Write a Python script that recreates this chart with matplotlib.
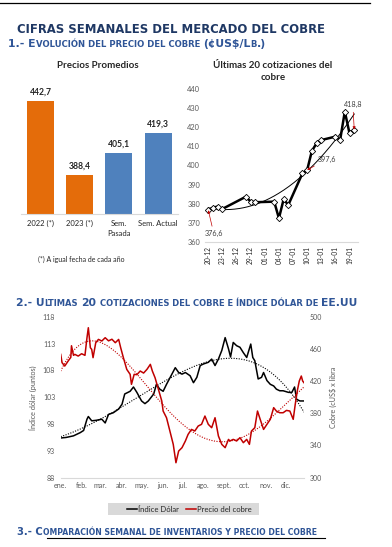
import numpy as np
import matplotlib
matplotlib.use('Agg')
import matplotlib.pyplot as plt
import matplotlib.dates as mdates
from matplotlib.patches import Rectangle
from matplotlib.lines import Line2D

# ---------------- data ----------------
bar_categories = ['2022 (*)', '2023 (*)', 'Sem.\nPasada', 'Sem. Actual']
bar_values = [442.7, 388.4, 405.1, 419.3]
bar_value_labels = ['442,7', '388,4', '405,1', '419,3']

quote_dates = ['2022-12-20', '2022-12-21', '2022-12-22', '2022-12-23', '2022-12-28',
               '2022-12-29', '2022-12-30', '2023-01-03', '2023-01-04', '2023-01-05',
               '2023-01-06', '2023-01-09', '2023-01-10', '2023-01-11', '2023-01-12',
               '2023-01-13', '2023-01-16', '2023-01-17', '2023-01-18', '2023-01-19',
               '2023-01-20']
quote_values = [376.6, 378.0, 378.5, 377.3, 383.7, 381.1, 380.8, 381.1, 372.4, 382.3,
                379.4, 395.9, 397.6, 407.6, 411.6, 413.3, 415.1, 413.3, 428.2, 416.8,
                418.8]
quote_tick_dates = ['2022-12-20', '2022-12-23', '2022-12-26', '2022-12-29', '2023-01-01',
                    '2023-01-04', '2023-01-07', '2023-01-10', '2023-01-13', '2023-01-16',
                    '2023-01-19']
quote_tick_labels = ['20-12', '23-12', '26-12', '29-12', '01-01', '04-01', '07-01',
                     '10-01', '13-01', '16-01', '19-01']
quote_yticks = [360, 370, 380, 390, 400, 410, 420, 430, 440]
callout_index = [0, 12, 20]
callout_text = ['376,6', '397,6', '418,8']

series_start = '2022-01-24'
dxy_day = [0, 8, 19, 29, 34, 39, 41, 46, 53, 61, 66, 71, 78, 86, 91, 95, 103, 108, 113, 120,
           125, 130, 138, 142, 147, 152, 157, 165, 170, 175, 180, 185, 192, 197, 202, 207,
           212, 219, 224, 229, 234, 239, 244, 249, 252, 256, 261, 266, 271, 276, 282, 285,
           288, 293, 298, 301, 306, 311, 316, 320, 325, 330, 338, 343, 347, 350, 355, 361]
dxy_val = [95.4, 95.5, 95.8, 96.4, 96.8, 98.9, 99.4, 98.6, 98.7, 98.9, 98.2, 99.8, 100.1,
           100.8, 101.7, 103.6, 104.1, 104.9, 103.9, 102.3, 101.8, 102.3, 103.6, 105.4,
           104.5, 104.1, 105.4, 107.3, 108.5, 107.6, 107.3, 107.6, 107.0, 105.7, 106.7,
           108.9, 109.2, 109.5, 110.1, 108.9, 110.1, 111.7, 114.1, 112.0, 110.5, 113.2,
           112.6, 112.3, 111.3, 110.4, 112.9, 110.4, 109.8, 106.4, 106.7, 107.6, 106.1,
           105.4, 105.1, 104.5, 104.2, 104.2, 103.9, 103.9, 104.9, 102.6, 102.3, 102.3]
cu_day = [0, 2, 6, 11, 15, 16, 19, 21, 26, 31, 36, 39, 41, 44, 46, 48, 52, 56, 61, 66,
          71, 76, 81, 86, 89, 93, 98, 103, 105, 109, 113, 118, 123, 128, 133, 136, 140,
          145, 150, 152, 157, 162, 167, 171, 175, 180, 185, 189, 194, 199, 204, 209, 214,
          219, 224, 229, 234, 239, 244, 249, 251, 256, 261, 266, 271, 276, 280, 283, 288,
          292, 296, 301, 306, 311, 316, 320, 325, 330, 335, 340, 345, 348, 351, 354, 357,
          359, 361]
cu_val = [453.2, 442.9, 438.7, 444.9, 449.5, 463.9, 452.0, 453.2, 451.1, 454.0, 452.0,
          473.9, 486.3, 461.5, 459.4, 449.1, 467.7, 471.8, 469.8, 473.9, 470.0, 472.0,
          467.7, 471.8, 461.5, 449.1, 434.6, 428.4, 416.0, 428.4, 428.0, 432.5, 430.0,
          434.6, 440.8, 432.5, 424.2, 409.7, 395.2, 382.8, 374.5, 358.0, 341.4, 318.6,
          333.1, 337.3, 345.6, 353.8, 360.0, 358.0, 364.2, 366.3, 376.6, 366.3, 362.1,
          374.5, 351.8, 341.4, 337.3, 347.6, 345.6, 347.6, 345.6, 349.7, 343.5, 347.6,
          341.4, 357.9, 362.1, 382.8, 372.5, 360.0, 366.3, 372.5, 387.0, 382.8, 380.7,
          380.7, 383.6, 382.8, 372.5, 391.1, 407.7, 420.1, 426.3, 420.1, 418.0]
month_tick_dates = ['2022-01-24', '2022-02-24', '2022-03-24', '2022-04-24', '2022-05-24',
                    '2022-06-24', '2022-07-24', '2022-08-24', '2022-09-24', '2022-10-24',
                    '2022-11-24', '2022-12-24']
month_labels = ['ene.', 'feb.', 'mar.', 'abr.', 'may.', 'jun.', 'jul.', 'ago.', 'sept.',
                'oct.', 'nov.', 'dic.']
dxy_ticks = [88, 93, 98, 103, 108, 113, 118]
cu_ticks = [300, 340, 380, 420, 460, 500]

# ---------------- styles ----------------
ORANGE = '#E46C0A'
BLUE = '#4F81BD'
RED = '#C00000'
GRID = '#D9D9D9'
TICK = '#595959'
DARK = '#262626'
HEAD = '#2F5597'
TITLE = '#1F3864'
CH = 'Lato'
HF = 'DejaVu Sans'
bar_colors = [ORANGE, ORANGE, BLUE, BLUE]
TREND_DEG = 4

W, H = 392, 547
fig = plt.figure(figsize=(W / 100, H / 100), dpi=100)
fig.patch.set_facecolor('white')
renderer = fig.canvas.get_renderer()


def add_ax(x0, y0, x1, y1):
    return fig.add_axes([x0 / W, 1 - y1 / H, (x1 - x0) / W, (y1 - y0) / H])


def clean(ax):
    for s in ['top', 'right', 'left']:
        ax.spines[s].set_visible(False)
    ax.spines['bottom'].set_color(GRID)
    ax.spines['bottom'].set_linewidth(0.8)
    ax.tick_params(length=0)
    ax.patch.set_alpha(0)


def caps_line(x0, x1, y, parts, ratio, color, size0=7.0):
    def draw(size):
        arts = []
        x = x0
        for txt, isbig in parts:
            s = size if isbig else size * ratio
            sp = 0.348 * s * 100 / 72
            lead = len(txt) - len(txt.lstrip(' '))
            trail = len(txt) - len(txt.rstrip(' '))
            x += lead * sp
            t = fig.text(x / W, 1 - y / H, txt.strip(' '), fontsize=s, fontweight='bold',
                         color=color, family=HF, ha='left', va='baseline')
            arts.append(t)
            x += t.get_window_extent(renderer).width
            x += trail * sp
        return arts, x
    arts, xe = draw(size0)
    for a in arts:
        a.remove()
    size = size0 * (x1 - x0) / (xe - x0)
    draw(size)


# ---------------- page texts ----------------
fig.add_artist(Line2D([0, 370 / W], [1 - 2.7 / H] * 2, color='black', lw=0.9))
caps_line(17, 325, 33.3, [('CIFRAS SEMANALES DEL MERCADO DEL COBRE', True)], 1.0, TITLE, 8.4)
caps_line(8, 270, 47.0, [('1.- E', True), ('VOLUCIÓN DEL PRECIO DEL COBRE ', False),
                          ('(¢US$/L', True), ('B', False), ('.)', True)], 0.78, HEAD)
caps_line(16, 362, 306.5, [('2.- U', True), ('LTIMAS ', False), ('20 ', True),
                            ('COTIZACIONES DEL COBRE E ÍNDICE DÓLAR DE ', False),
                            ('EE.UU', True)], 0.78, HEAD)
caps_line(17, 320, 535.0, [('3.- C', True),
                            ('OMPARACIÓN SEMANAL DE INVENTARIOS Y PRECIO DEL COBRE', False)],
          0.78, HEAD)
fig.add_artist(Line2D([47 / W, 325 / W], [1 - 537.5 / H] * 2, color='black', lw=0.8))

# ---------------- bar chart ----------------
axb = add_ax(20.9, 77.7, 177.7, 214)
clean(axb)
xb = np.arange(len(bar_values))
axb.bar(xb, bar_values, width=0.69, color=bar_colors)
axb.set_xlim(-0.5, len(bar_values) - 0.5)
axb.set_ylim(360, 460)
axb.set_yticks([])
axb.set_xticks(xb)
axb.set_xticklabels(bar_categories, fontsize=5.5, family=CH, color=DARK, linespacing=1.45)
axb.tick_params(axis='x', pad=4.5)
for xi, v, lab in zip(xb, bar_values, bar_value_labels):
    axb.annotate(lab, (xi, v), xytext=(0, 3), textcoords='offset points', ha='center',
                 va='bottom', fontsize=6.2, fontweight='bold', color=DARK, family=CH)
fig.text(98 / W, 1 - 65 / H, 'Precios Promedios', ha='center', va='center', fontsize=7,
         fontweight='bold', family=CH, color=DARK)
fig.text(81 / W, 1 - 259 / H, '(*) A igual fecha de cada año', ha='center', va='center',
         fontsize=5, family=CH, color=DARK)

# ---------------- last 20 quotes ----------------
axq = add_ax(205, 89, 358, 242)
clean(axq)
qx = mdates.date2num(np.array(quote_dates, dtype='datetime64[D]'))
qv = np.array(quote_values)
coef = np.polyfit(qx - qx[0], qv, 2)
tt = np.linspace(qx[0], qx[-1], 200)
axq.plot(tt, np.polyval(coef, tt - qx[0]), color='black', lw=0.7, zorder=2)
axq.plot(qx, qv, color='black', lw=1.8, marker='D', ms=3.2, mfc='white', mec='black',
         mew=0.6, zorder=3)
axq.set_xlim(qx[0] - 0.7, qx[-1] + 0.8)
axq.set_ylim(360, 440)
axq.set_yticks(quote_yticks)
axq.set_yticklabels([str(v) for v in quote_yticks], fontsize=5.3, family=CH, color=TICK)
axq.tick_params(axis='y', pad=3.6)
axq.set_xticks(mdates.date2num(np.array(quote_tick_dates, dtype='datetime64[D]')))
axq.set_xticklabels(quote_tick_labels, rotation=90, fontsize=4.8, family=CH, color=DARK)
axq.tick_params(axis='x', pad=3.2)
callout_offsets = [(4, -17), (14, 8), (-1, 18)]
for i, txt, off in zip(callout_index, callout_text, callout_offsets):
    axq.annotate(txt, (qx[i], qv[i]), xytext=off, textcoords='offset points', ha='center',
                 va='center', fontsize=5.2, family=CH, color='#404040', zorder=5,
                 arrowprops=dict(arrowstyle='-|>', color=RED, lw=0.5, mutation_scale=4,
                                 shrinkA=1, shrinkB=0))
fig.text(273 / W, 1 - 71.5 / H, 'Últimas 20 cotizaciones del\ncobre', ha='center',
         va='center', fontsize=7, fontweight='bold', family=CH, color=DARK, linespacing=1.5)

# ---------------- dollar index vs copper ----------------
start = np.datetime64(series_start)
axd = add_ax(60.7, 316.7, 304, 477.7)
clean(axd)
dx = mdates.date2num(start + np.array(dxy_day).astype('timedelta64[D]'))
cx = mdates.date2num(start + np.array(cu_day).astype('timedelta64[D]'))
dense = np.linspace(0, max(dxy_day[-1], cu_day[-1]), 300)
dense_x = mdates.date2num(start) + dense
l1, = axd.plot(dx, dxy_val, color='black', lw=1.1, label='Índice Dólar', zorder=3)
axd.plot(dense_x, np.polyval(np.polyfit(dxy_day, dxy_val, TREND_DEG), dense), color='black',
         lw=0.8, ls=(0, (1, 1.3)), zorder=2)
axd.set_ylim(88, 118)
axd.set_yticks(dxy_ticks)
axd.set_yticklabels([str(v) for v in dxy_ticks], fontsize=5, family=CH, color=TICK)
axd.tick_params(axis='y', pad=4)
axd.set_xlim(dx[0], dx[-1])
axd.set_xticks(mdates.date2num(np.array(month_tick_dates, dtype='datetime64[D]')))
axd.set_xticklabels(month_labels, fontsize=5, family=CH, color=TICK)
axd.tick_params(axis='x', pad=3)
axd.set_ylabel('Índice dólar (puntos)', fontsize=5.2, family=CH, color=TICK)
axd.yaxis.set_label_coords(-0.097, 0.5)

axc = axd.twinx()
for s in ['top', 'right', 'left', 'bottom']:
    axc.spines[s].set_visible(False)
axc.tick_params(length=0)
l2, = axc.plot(cx, cu_val, color=RED, lw=1.1, label='Precio del cobre', zorder=3)
axc.plot(dense_x, np.polyval(np.polyfit(cu_day, cu_val, TREND_DEG), dense), color=RED,
         lw=0.8, ls=(0, (1, 1.3)), zorder=2)
axc.set_ylim(300, 500)
axc.set_yticks(cu_ticks)
axc.set_yticklabels([str(v) for v in cu_ticks], fontsize=5, family=CH, color=TICK)
axc.tick_params(axis='y', pad=4.3)
axc.set_ylabel('Cobre (cUS$ x libra', fontsize=5.2, family=CH, color=TICK)
axc.yaxis.set_label_coords(1.103, 0.5)
axc.set_xlim(dx[0], dx[-1])

fig.add_artist(Rectangle((108 / W, 1 - 515 / H), 151 / W, 12.3 / H, transform=fig.transFigure,
                         facecolor=GRID, edgecolor='none', zorder=-5))
leg = axc.legend(handles=[l1, l2], loc='center left', bbox_to_anchor=(126.7 / W, 1 - 509 / H),
                 bbox_transform=fig.transFigure, ncol=2, frameon=False,
                 prop=dict(family=CH, size=5.5), handlelength=1.3, handletextpad=0.15,
                 columnspacing=1.0, borderpad=0, borderaxespad=0, labelcolor=DARK)

fig.savefig('out.png', dpi=100, facecolor='white')
